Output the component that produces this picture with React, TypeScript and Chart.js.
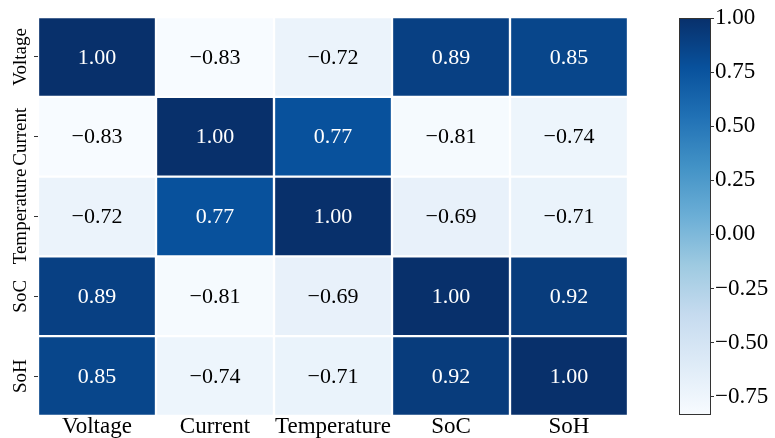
import React, { useEffect, useRef } from "react";
import { Chart, registerables } from "chart.js";

Chart.register(...registerables);

const variables = ["Voltage", "Current", "Temperature", "SoC", "SoH"];
const voltageRow = [1.0, -0.83, -0.72, 0.89, 0.85];
const currentRow = [-0.83, 1.0, 0.77, -0.81, -0.74];
const temperatureRow = [-0.72, 0.77, 1.0, -0.69, -0.71];
const socRow = [0.89, -0.81, -0.69, 1.0, 0.92];
const sohRow = [0.85, -0.74, -0.71, 0.92, 1.0];
const matrixRows = [voltageRow, currentRow, temperatureRow, socRow, sohRow];
const colorbarTicks = [-0.75, -0.5, -0.25, 0.0, 0.25, 0.5, 0.75, 1.0];
const vmin = -0.83;
const vmax = 1.0;

const BLUES = ["#f7fbff", "#deebf7", "#c6dbef", "#9ecae1", "#6baed6", "#4292c6", "#2171b5", "#08519c", "#08306b"];
const FONT = '"Liberation Serif", "Times New Roman", serif';

function hexToRgb(h: string) {
  const n = parseInt(h.slice(1), 16);
  return [(n >> 16) & 255, (n >> 8) & 255, n & 255];
}
function blues(t: number) {
  t = Math.max(0, Math.min(1, t));
  const p = t * (BLUES.length - 1);
  const i = Math.min(BLUES.length - 2, Math.floor(p));
  const f = p - i;
  const a = hexToRgb(BLUES[i]);
  const b = hexToRgb(BLUES[i + 1]);
  const c = a.map((v, k) => Math.round(v + (b[k] - v) * f));
  return `rgb(${c[0]},${c[1]},${c[2]})`;
}
const norm = (v: number) => (v - vmin) / (vmax - vmin);
const fmt = (v: number) => (v < 0 ? "\u2212" : "") + Math.abs(v).toFixed(2);

export default function App() {
  const mainRef = useRef<HTMLCanvasElement>(null);
  const cbRef = useRef<HTMLCanvasElement>(null);

  useEffect(() => {
    const datasets = matrixRows.map((row, i) => ({
      label: variables[i],
      data: row.map(() => [i, i + 1]),
      values: row,
      backgroundColor: row.map((v) => blues(norm(v))),
      borderColor: "#ffffff",
      borderWidth: 1.5,
      borderSkipped: false,
      barPercentage: 1,
      categoryPercentage: 1,
      grouped: false,
    }));

    const cellText = {
      id: "cellText",
      afterDatasetsDraw(chart: any) {
        const ctx = chart.ctx;
        ctx.save();
        ctx.font = `22px ${FONT}`;
        ctx.textAlign = "center";
        ctx.textBaseline = "middle";
        chart.data.datasets.forEach((ds: any, i: number) => {
          const meta = chart.getDatasetMeta(i);
          meta.data.forEach((el: any, j: number) => {
            const v = ds.values[j];
            const c = el.getCenterPoint();
            ctx.fillStyle = norm(v) > 0.6 ? "#ffffff" : "#000000";
            ctx.fillText(fmt(v), c.x, c.y + 1);
          });
        });
        // y labels (rotated)
        const ys = chart.scales.y;
        ctx.fillStyle = "#000";
        ctx.font = `19px ${FONT}`;
        variables.forEach((name, i) => {
          const py = ys.getPixelForValue(i + 0.5);
          ctx.save();
          ctx.translate(21, py);
          ctx.rotate(-Math.PI / 2);
          ctx.fillText(name, 0, 0);
          ctx.restore();
        });
        ctx.restore();
      },
    };

    const main = new Chart(mainRef.current!, {
      type: "bar",
      data: { labels: variables, datasets: datasets as any },
      options: {
        animation: false,
        responsive: false,
        layout: { padding: { top: 17, right: 147, bottom: 0, left: 0 } },
        plugins: { legend: { display: false }, tooltip: { enabled: false } },
        scales: {
          x: {
            type: "category",
            grid: { display: false, drawTicks: false, tickLength: 0 },
            border: { display: false },
            ticks: { color: "#000", font: { family: FONT, size: 23 }, padding: -3, maxRotation: 0, autoSkip: false },
            afterFit: (s: any) => { s.height = 22; },
          },
          y: {
            type: "linear",
            min: 0,
            max: 5,
            reverse: true,
            afterBuildTicks: (s: any) => { s.ticks = variables.map((_, i) => ({ value: i + 0.5 })); },
            ticks: { display: false },
            grid: { drawOnChartArea: false, drawTicks: true, tickLength: 4, color: "#333" },
            border: { display: false },
            afterFit: (s: any) => { s.width = 38; },
          },
        },
      },
      plugins: [cellText],
    });

    const cbBorder = {
      id: "cbBorder",
      afterDatasetsDraw(chart: any) {
        const { left, right, top, bottom } = chart.chartArea;
        const ctx = chart.ctx;
        ctx.save();
        ctx.strokeStyle = "#333";
        ctx.lineWidth = 1;
        ctx.strokeRect(Math.round(left) + 0.5, Math.round(top) + 0.5, Math.round(right - left), Math.round(bottom - top));
        ctx.restore();
      },
    };

    const cb = new Chart(cbRef.current!, {
      type: "bar",
      data: {
        labels: ["cb"],
        datasets: [
          {
            data: [[vmin, vmax]],
            backgroundColor: (c: any) => {
              const area = c.chart.chartArea;
              if (!area) return BLUES[4];
              const g = c.chart.ctx.createLinearGradient(0, area.bottom, 0, area.top);
              BLUES.forEach((col, k) => g.addColorStop(k / (BLUES.length - 1), col));
              return g;
            },
            borderWidth: 0,
            barPercentage: 1,
            categoryPercentage: 1,
          } as any,
        ],
      },
      options: {
        animation: false,
        responsive: false,
        layout: { padding: { top: 18, right: 0, bottom: 24, left: 679 } },
        plugins: { legend: { display: false }, tooltip: { enabled: false } },
        scales: {
          x: { display: false },
          y: {
            type: "linear",
            position: "right",
            min: vmin,
            max: vmax,
            afterBuildTicks: (s: any) => { s.ticks = colorbarTicks.map((v) => ({ value: v })); },
            ticks: { color: "#000", font: { family: FONT, size: 23 }, padding: 1, callback: (v: any) => fmt(Number(v)) },
            grid: { drawOnChartArea: false, drawTicks: true, tickLength: 4, color: "#333" },
            border: { display: false },
            afterFit: (s: any) => { s.width = 65; },
          },
        },
      },
      plugins: [cbBorder],
    });

    return () => {
      main.destroy();
      cb.destroy();
    };
  }, []);

  return (
    <div style={{ position: "absolute", left: 0, top: 0, width: 775, height: 438, background: "#fff" }}>
      <canvas ref={mainRef} width={775} height={438} style={{ position: "absolute", left: 0, top: 0 }} />
      <canvas ref={cbRef} width={775} height={438} style={{ position: "absolute", left: 0, top: 0 }} />
    </div>
  );
}
